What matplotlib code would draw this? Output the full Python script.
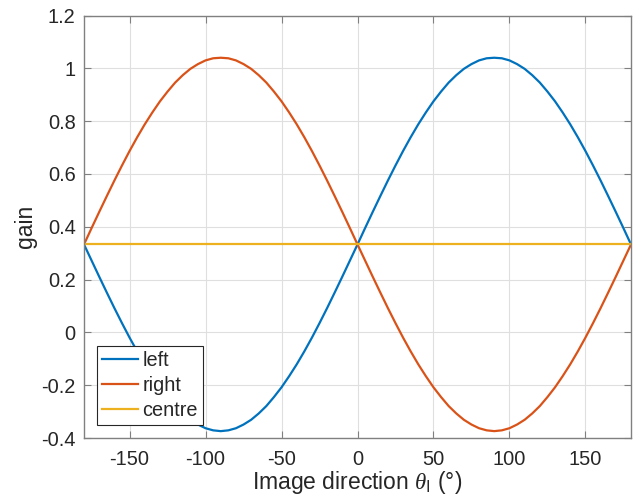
import numpy as np
import matplotlib
matplotlib.use("Agg")
import matplotlib.pyplot as plt

plt.rcParams['font.family'] = ['Liberation Sans', 'DejaVu Sans']
plt.rcParams['mathtext.fontset'] = 'custom'
plt.rcParams['mathtext.it'] = 'Liberation Serif:italic'
plt.rcParams['mathtext.rm'] = 'Liberation Sans'

theta = list(range(-180, 181, 5))
left = [0.333, 0.272, 0.211, 0.151, 0.092, 0.035, -0.020, -0.072, -0.121, -0.166,
        -0.208, -0.245, -0.279, -0.307, -0.331, -0.349, -0.363, -0.371, -0.374,
        -0.371, -0.363, -0.349, -0.331, -0.307, -0.279, -0.245, -0.208, -0.166,
        -0.121, -0.072, -0.020, 0.035, 0.092, 0.151, 0.211, 0.272, 0.333,
        0.395, 0.456, 0.516, 0.575, 0.632, 0.687, 0.739, 0.788, 0.833,
        0.875, 0.912, 0.946, 0.974, 0.998, 1.016, 1.030, 1.038, 1.040,
        1.038, 1.030, 1.016, 0.998, 0.974, 0.946, 0.912, 0.875, 0.833,
        0.788, 0.739, 0.687, 0.632, 0.575, 0.516, 0.456, 0.395, 0.333]
right = [0.333, 0.395, 0.456, 0.516, 0.575, 0.632, 0.687, 0.739, 0.788, 0.833,
         0.875, 0.912, 0.946, 0.974, 0.998, 1.016, 1.030, 1.038, 1.040,
         1.038, 1.030, 1.016, 0.998, 0.974, 0.946, 0.912, 0.875, 0.833,
         0.788, 0.739, 0.687, 0.632, 0.575, 0.516, 0.456, 0.395, 0.333,
         0.272, 0.211, 0.151, 0.092, 0.035, -0.020, -0.072, -0.121, -0.166,
         -0.208, -0.245, -0.279, -0.307, -0.331, -0.349, -0.363, -0.371, -0.374,
         -0.371, -0.363, -0.349, -0.331, -0.307, -0.279, -0.245, -0.208, -0.166,
         -0.121, -0.072, -0.020, 0.035, 0.092, 0.151, 0.211, 0.272, 0.333]
centre = [0.333] * len(theta)

xticks = [-150, -100, -50, 0, 50, 100, 150]
yticks = [-0.4, -0.2, 0, 0.2, 0.4, 0.6, 0.8, 1, 1.2]
ytick_labels = ['-0.4', '-0.2', '0', '0.2', '0.4', '0.6', '0.8', '1', '1.2']

fig = plt.figure(figsize=(6.38, 5.0), dpi=100)
ax = fig.add_axes([84/638, 1 - 438/500, (631-84)/638, (438-15.5)/500])

ax.plot(theta, left, color='#0072BD', lw=1.6, label='left')
ax.plot(theta, right, color='#D95319', lw=1.6, label='right')
ax.plot(theta, centre, color='#EDB120', lw=1.6, label='centre')

ax.set_xlim(-180, 180)
ax.set_ylim(-0.4, 1.2)
ax.set_xticks(xticks)
ax.set_xticklabels([str(v) for v in xticks])
ax.set_yticks(yticks)
ax.set_yticklabels(ytick_labels)

ax.grid(True, color='#dfdfdf', lw=0.8)
ax.set_axisbelow(True)
axc = '#262626'
for s in ax.spines.values():
    s.set_color('#808080')
    s.set_linewidth(1.0)
ax.tick_params(direction='in', length=5, width=0.8, color='#808080',
               labelcolor=axc, labelsize=14.4, top=True, right=True)
ax.tick_params(axis='x', pad=8.5)
ax.tick_params(axis='y', pad=6)

ax.set_xlabel(r'Image direction $\theta_\mathrm{I}$ (°)', fontsize=16.5, color=axc, labelpad=0)
ax.set_ylabel('gain', fontsize=16.5, color=axc, labelpad=3)

leg = ax.legend(loc='lower left', fontsize=14.3, frameon=True, fancybox=False,
                edgecolor='#262626', framealpha=1, handlelength=1.8,
                borderaxespad=0.65, labelspacing=0.3, handletextpad=0.25,
                borderpad=0.25)
leg.get_frame().set_linewidth(0.8)
for t in leg.get_texts():
    t.set_color(axc)

fig.savefig('out.png', dpi=100)
